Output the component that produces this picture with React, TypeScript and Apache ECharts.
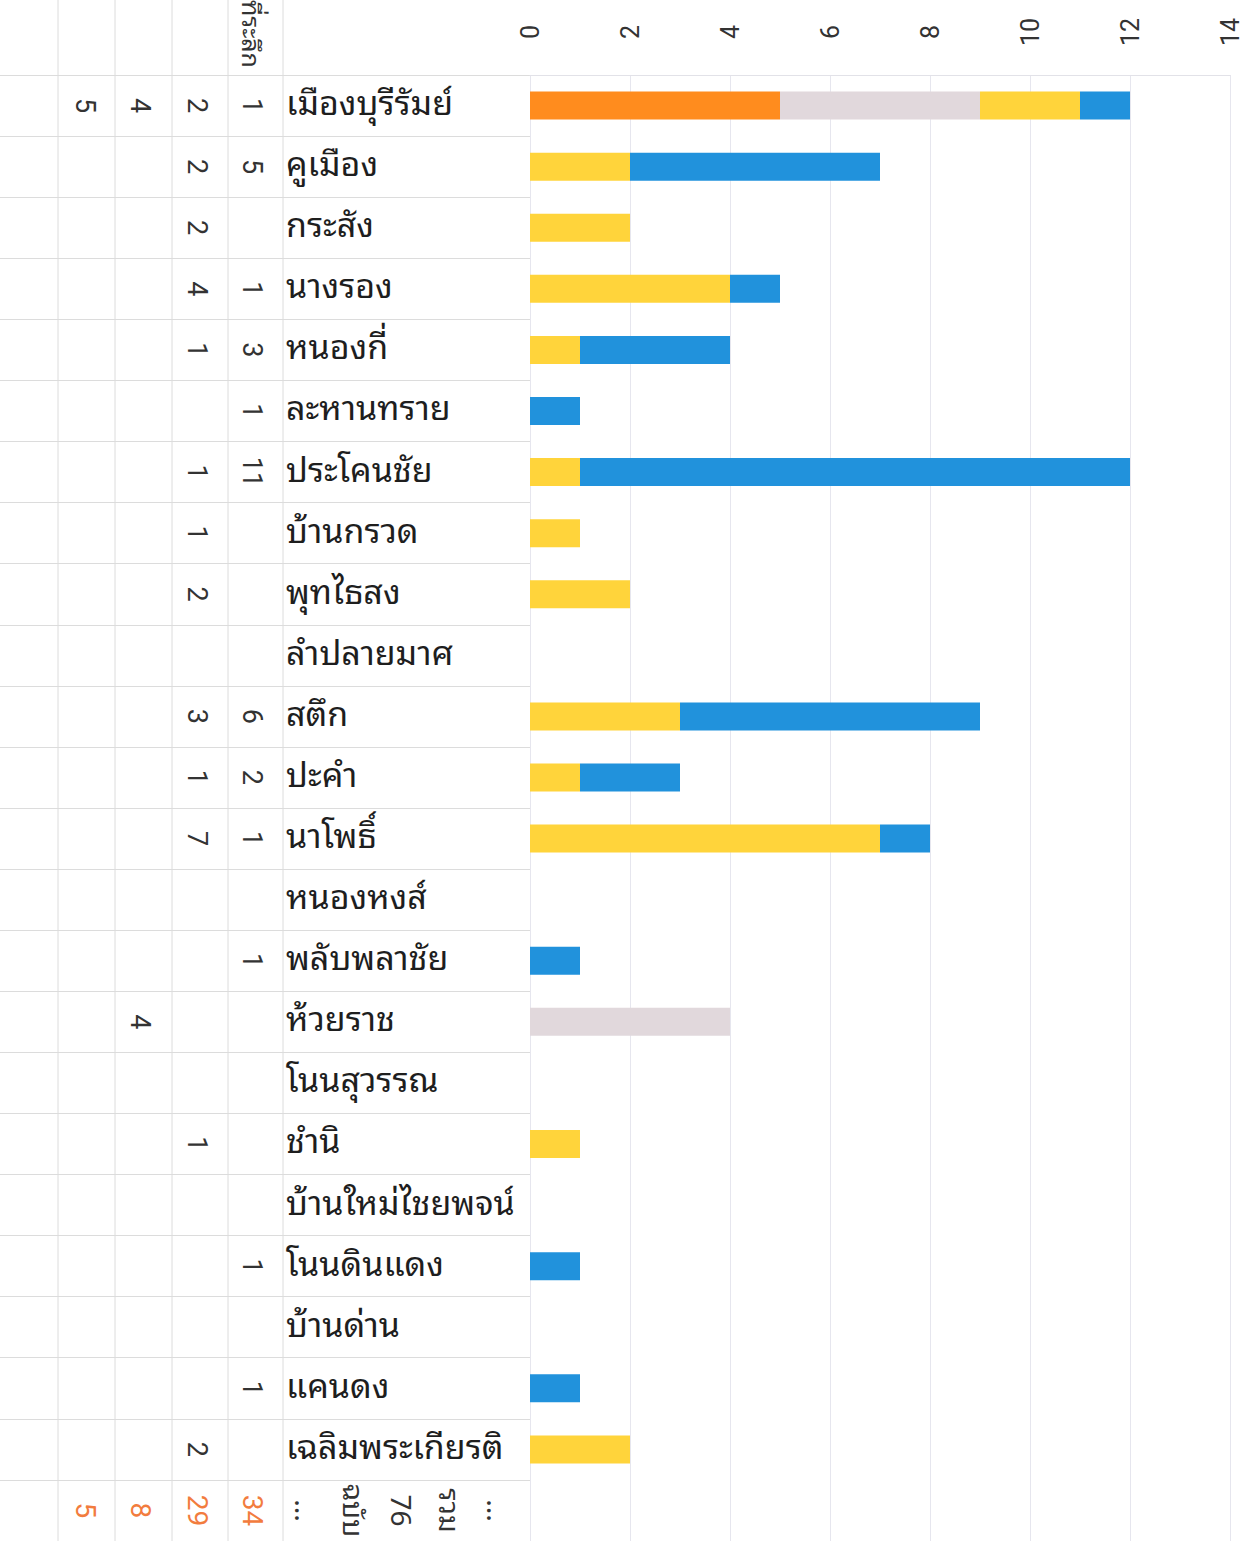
import React, { useEffect, useRef } from "react";
import * as echarts from "echarts";

// ---- data ----
const districts = [
  "เมืองบุรีรัมย์", "คูเมือง", "กระสัง", "นางรอง", "หนองกี่", "ละหานทราย",
  "ประโคนชัย", "บ้านกรวด", "พุทไธสง", "ลำปลายมาศ", "สตึก", "ปะคำ",
  "นาโพธิ์", "หนองหงส์", "พลับพลาชัย", "ห้วยราช", "โนนสุวรรณ", "ชำนิ",
  "บ้านใหม่ไชยพจน์", "โนนดินแดง", "บ้านด่าน", "แคนดง", "เฉลิมพระเกียรติ",
];
// column nearest the names (blue)
const colA = [1, 5, 0, 1, 3, 1, 11, 0, 0, 0, 6, 2, 1, 0, 1, 0, 0, 0, 0, 1, 0, 1, 0];
// second column (yellow)
const colB = [2, 2, 2, 4, 1, 0, 1, 1, 2, 0, 3, 1, 7, 0, 0, 0, 0, 1, 0, 0, 0, 0, 2];
// third column (grey)
const colC = [4, 0, 0, 0, 0, 0, 0, 0, 0, 0, 0, 0, 0, 0, 0, 4, 0, 0, 0, 0, 0, 0, 0];
// fourth column (orange)
const colD = [5, 0, 0, 0, 0, 0, 0, 0, 0, 0, 0, 0, 0, 0, 0, 0, 0, 0, 0, 0, 0, 0, 0];
const headerA = "ที่ระลึก";
const footerWords = ["...", "รวม", "ฉบับ", "..."];
const axisMin = 0;
const axisMax = 14;
const axisStep = 2;

const sum = (a: number[]) => a.reduce((s, v) => s + v, 0);

export default function App() {
  const ref = useRef<HTMLDivElement>(null);
  useEffect(() => {
    if (!ref.current) return;
    const chart = echarts.init(ref.current, undefined, { renderer: "svg" });
    const rows = [...districts, ""]; // last row = totals
    const n = districts.length;
    const grand = sum(colA) + sum(colB) + sum(colC) + sum(colD);

    const gridLeft = 530;
    const numFont = "Roboto, 'Noto Sans', sans-serif";
    const thaiFont =
      "'Noto Sans Thai Looped', 'Noto Serif Thai', 'Loma', 'Garuda', 'Noto Sans Thai', 'Noto Sans', sans-serif";

    const colAxis = (col: number[], cx: number) => ({
      type: "category",
      gridIndex: 0,
      data: rows,
      inverse: true,
      position: "left",
      axisLine: { show: false },
      axisTick: { show: false },
      splitLine: { show: false },
      axisLabel: {
        interval: 0,
        rotate: -90,
        margin: gridLeft - cx,
        align: "center",
        verticalAlign: "middle",
        fontSize: 27,
        fontFamily: numFont,
        color: "#333",
        formatter: (_v: string, i: number) =>
          i < n ? (col[i] ? String(col[i]) : "") : `{t|${sum(col)}}`,
        rich: { t: { color: "#F27C3E", fontSize: 28, fontFamily: numFont } },
      },
    });

    const mkSeries = (name: string, col: number[], color: string) => ({
      name,
      type: "bar",
      stack: "all",
      xAxisIndex: 0,
      yAxisIndex: 0,
      barWidth: 28,
      data: [...col.map((v) => (v ? v : null)), null],
      itemStyle: { color },
    });

    const footerText = `${footerWords[0]}\n${footerWords[1]}\n${grand}\n${footerWords[2]}\n${footerWords[3]}`;

    const tableLine = "#dcdcdc";
    const vLines = [58, 115, 172, 228, 283].map((x) => ({
      type: "line",
      shape: { x1: x, y1: 0, x2: x, y2: 1541 },
      style: { stroke: tableLine, lineWidth: 1 },
      silent: true,
    }));

    chart.setOption({
      animation: false,
      backgroundColor: "#ffffff",
      grid: [
        { left: gridLeft, right: 15, top: 75, bottom: 0 },
        { left: 0, width: gridLeft, top: 75, bottom: 0 },
      ],
      xAxis: [
        {
          type: "value",
          gridIndex: 0,
          position: "top",
          min: axisMin,
          max: axisMax,
          interval: axisStep,
          axisLine: { show: true, lineStyle: { color: "#e2e2e8" } },
          axisTick: { show: false },
          splitLine: { show: true, lineStyle: { color: "#e6e6ee", width: 1 } },
          axisLabel: {
            rotate: -90,
            margin: 43,
            align: "center",
            verticalAlign: "middle",
            fontSize: 25,
            fontFamily: numFont,
            color: "#333",
          },
        },
        { type: "value", gridIndex: 1, min: 0, max: 1, show: false },
      ],
      yAxis: [
        {
          type: "category",
          gridIndex: 0,
          data: rows,
          inverse: true,
          position: "left",
          axisLine: { show: false },
          axisTick: { show: false },
          splitLine: { show: false },
          axisLabel: {
            interval: 0,
            margin: gridLeft - 286,
            align: "left",
            verticalAlign: "bottom",
            lineHeight: 12,
            fontSize: 34,
            fontFamily: thaiFont,
            color: "#1e1e1e",
          },
        },
        colAxis(colA, 252),
        colAxis(colB, 197),
        colAxis(colC, 140),
        colAxis(colD, 85),
        {
          type: "category",
          gridIndex: 0,
          data: rows,
          inverse: true,
          position: "left",
          axisLine: { show: false },
          axisTick: { show: false },
          splitLine: { show: false },
          axisLabel: {
            interval: 0,
            rotate: -90,
            margin: gridLeft - 403,
            align: "center",
            verticalAlign: "middle",
            fontSize: 28,
            lineHeight: 48,
            fontFamily: thaiFont,
            color: "#333",
            formatter: (_v: string, i: number) => (i === n ? footerText : ""),
          },
        },
        {
          type: "category",
          gridIndex: 1,
          data: rows,
          inverse: true,
          axisLine: { show: false },
          axisTick: { show: false },
          axisLabel: { show: false },
          splitLine: { show: true, lineStyle: { color: tableLine, width: 1 } },
        },
      ],
      series: [
        mkSeries("D", colD, "#FF8C1E"),
        mkSeries("C", colC, "#E1D8DC"),
        mkSeries("B", colB, "#FFD43B"),
        mkSeries("A", colA, "#2192DC"),
      ],
      graphic: [
        ...vLines,
        {
          type: "text",
          x: 253,
          y: 68,
          rotation: -Math.PI / 2,
          style: {
            text: headerA,
            fontSize: 25,
            fontFamily: thaiFont,
            fill: "#333",
            align: "right",
            verticalAlign: "middle",
          },
          silent: true,
        },
      ],
    });
    return () => chart.dispose();
  }, []);
  return (
    <div
      ref={ref}
      style={{ position: "absolute", left: 0, top: 0, width: 1245, height: 1541 }}
    />
  );
}
